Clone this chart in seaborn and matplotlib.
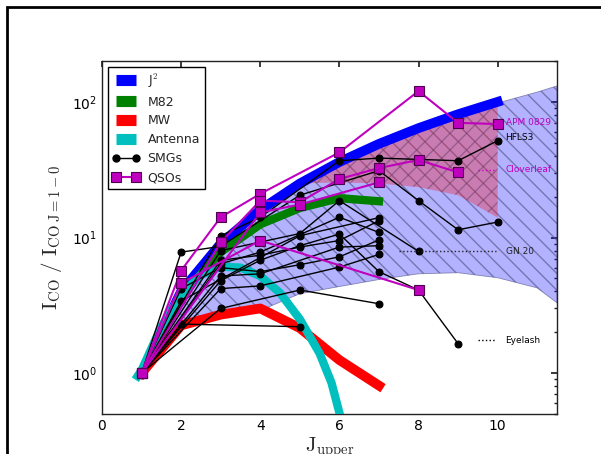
import numpy as np
import pandas as pd
import matplotlib
matplotlib.use("Agg")
import matplotlib.pyplot as plt
import seaborn as sns
from matplotlib.lines import Line2D
from matplotlib.patches import Rectangle

# ---------------- data ----------------
j2_J = [1, 2, 3, 4, 5, 6, 7, 8, 9, 10]
j2_val = [1, 4, 9, 16, 25, 36, 49, 64, 81, 100]

m82_J = [1, 2, 3, 4, 5, 6, 7]
m82_val = [1, 3.7, 7.8, 12.5, 16.5, 19.5, 18.5]

mw_J = [1, 2, 3, 4, 5, 6, 7]
mw_val = [1, 2.25, 2.7, 3.0, 2.15, 1.25, 0.81]

ant_J = [0.9, 1.0, 1.5, 2.0, 2.5, 3.0, 3.5, 4.0, 4.5, 5.0, 5.5, 5.8, 6.05]
ant_val = [0.95, 1.05, 2.2, 3.8, 5.3, 6.1, 6.0, 5.2, 3.9, 2.5, 1.4, 0.85, 0.45]

band_J = [1, 2, 3, 4, 5, 6, 7, 8, 9, 10, 11, 11.5]
band_low = [1, 2.2, 2.6, 2.9, 3.85, 4.35, 4.9, 5.4, 5.5, 5.05, 4.25, 3.3]
band_high = [1, 4, 9, 16, 25, 36, 49, 64, 81, 98, 118, 131]

pink_J = [5, 6, 7, 8, 9, 10]
pink_low = [25, 25.5, 25, 23.5, 20.5, 14]
pink_high = [25, 36, 49, 64, 81, 98]

smg_names = ["S1", "S2", "S3", "S4", "Eyelash", "S6", "S7", "S8", "S9", "S10", "S11", "S12"]
smg_J = [
    [1, 3, 4, 6, 7, 9, 10],
    [1, 2, 3, 5, 7, 8, 9, 10],
    [1, 3, 5, 6, 8],
    [1, 3, 4, 5, 6, 7],
    [1, 3, 4, 5, 6, 7, 8, 9],
    [1, 2, 5],
    [1, 3, 5, 7],
    [1, 3, 4, 6, 7],
    [1, 2, 3, 4, 5, 6, 7],
    [1, 3, 4, 6, 7],
    [1, 3, 4, 6, 7],
    [1, 2, 5, 7],
]
smg_val = [
    [1, 10.3, 14.1, 36.8, 38.5, 36.8, 51.7],
    [1, 7.8, 8.6, 20.5, 31.1, 18.7, 11.4, 13.0],
    [1, 8.0, 10.7, 18.7, 7.9],
    [1, 6.8, 7.4, 8.5, 9.5, 13.3],
    [1, 4.8, 6.8, 8.7, 10.6, 5.6, 4.1, 1.65],
    [1, 2.3, 2.2],
    [1, 3.0, 4.1, 3.25],
    [1, 6.4, 7.8, 14.1, 10.9],
    [1, 4.2, 6.0, 5.6, 6.3, 7.2, 9.6],
    [1, 5.2, 5.4, 8.5, 8.7],
    [1, 4.2, 4.4, 6.05, 7.5],
    [1, 3.4, 10.3, 14.0],
]

qso_names = ["APM 0829", "Cloverleaf", "Q3", "Q4"]
qso_J = [
    [1, 2, 3, 4, 6, 8, 9, 10],
    [1, 3, 4, 5, 6, 7, 8, 9],
    [1, 4, 5, 7],
    [1, 2, 4, 8],
]
qso_val = [
    [1, 5.7, 14.1, 21, 42.4, 120, 70, 68.6],
    [1, 9.2, 18.7, 18.2, 27, 32.5, 37.3, 30.2],
    [1, 15.3, 17.5, 25.5],
    [1, 4.6, 9.5, 4.1],
]

labels_txt = ["APM 0829", "HFLS3", "Cloverleaf", "GN 20", "Eyelash"]
labels_y = [70, 55, 31.6, 7.9, 1.75]
dots_x0 = [None, None, 9.5, 7.5, 9.5]
dots_x1 = [None, None, 9.97, 9.95, 9.95]

legend_names = ["J$^2$", "M82", "MW", "Antenna", "SMGs", "QSOs"]

# classic matplotlib colours
BLUE = (0.0, 0.0, 1.0)
GREEN = (0.0, 0.5, 0.0)
RED = (1.0, 0.0, 0.0)
CYAN = (0.0, 0.75, 0.75)
MAGENTA = (0.75, 0.0, 0.75)
labels_col = [MAGENTA, "black", MAGENTA, "#222222", "black"]

# ---------------- style ----------------
sns.set_theme(style="white")
plt.rcParams.update({
    "font.family": ["DejaVu Sans"],
    "mathtext.fontset": "cm",
    "lines.solid_capstyle": "projecting",
    "axes.edgecolor": "#222222",
    "axes.linewidth": 1.0,
    "xtick.direction": "in",
    "ytick.direction": "in",
    "xtick.top": True,
    "ytick.right": True,
    "xtick.major.size": 4,
    "ytick.major.size": 4,
    "xtick.minor.size": 2,
    "ytick.minor.size": 2,
    "xtick.color": "#222222",
    "ytick.color": "#222222",
    "xtick.labelcolor": "black",
    "ytick.labelcolor": "black",
})

fig = plt.figure(figsize=(6.01, 4.54), dpi=100)
ax = fig.add_axes([102 / 601, (454 - 414) / 454, 455 / 601, 353 / 454])

# shaded regions
ax.fill_between(band_J, band_low, band_high, facecolor=(0, 0, 1, 0.3),
                edgecolor=(0.3, 0.3, 0.5, 0.6), hatch="\\\\", linewidth=0.6, zorder=1)
ax.fill_between(pink_J, pink_low, pink_high, facecolor=(1, 0, 0, 0.3),
                edgecolor=(0.4, 0.25, 0.4, 0.5), hatch="//", linewidth=0.0, zorder=1.1)

# thick model bands
sns.lineplot(x=j2_J, y=j2_val, color=BLUE, lw=7, ax=ax, zorder=3, legend=False)
sns.lineplot(x=m82_J, y=m82_val, color=GREEN, lw=6, ax=ax, zorder=3, legend=False)
sns.lineplot(x=mw_J, y=mw_val, color=RED, lw=7, ax=ax, zorder=3, legend=False)
sns.lineplot(x=ant_J, y=ant_val, color=CYAN, lw=6, ax=ax, zorder=3, legend=False, sort=False)

# SMGs
smg_df = pd.DataFrame({
    "gal": [n for n, js in zip(smg_names, smg_J) for _ in js],
    "J": [j for js in smg_J for j in js],
    "ratio": [v for vs in smg_val for v in vs],
})
sns.lineplot(data=smg_df, x="J", y="ratio", units="gal", estimator=None, color="black",
             lw=1, marker="o", markersize=5, markeredgecolor="black", ax=ax,
             legend=False, zorder=4)

# QSOs
qso_df = pd.DataFrame({
    "gal": [n for n, js in zip(qso_names, qso_J) for _ in js],
    "J": [j for js in qso_J for j in js],
    "ratio": [v for vs in qso_val for v in vs],
})
sns.lineplot(data=qso_df, x="J", y="ratio", units="gal", estimator=None, color=MAGENTA,
             lw=1.5, marker="s", markersize=6.5, markerfacecolor=MAGENTA,
             markeredgecolor="#500050", markeredgewidth=0.8, ax=ax,
             legend=False, zorder=5)

# annotations
for t, y, c, x0, x1 in zip(labels_txt, labels_y, labels_col, dots_x0, dots_x1):
    ax.text(10.2, y, t, color=c, fontsize=6.5, va="center", ha="left", zorder=6)
    if x0 is not None:
        ax.plot([x0, x1], [y, y], ls=":", color=c, lw=1, zorder=6)

ax.set_yscale("log")
ax.set_xlim(0, 11.5)
ax.set_ylim(0.5, 200)
ax.set_xticks([0, 2, 4, 6, 8, 10])
ax.tick_params(labelsize=10)
ax.set_xlabel(r"$\mathrm{J_{upper}}$", fontsize=15, labelpad=2)
ax.set_ylabel(r"$\mathrm{I_{CO}\ /\ I_{CO\ J=1-0}}$", fontsize=15, labelpad=6)

handles = [
    Line2D([], [], color=BLUE, lw=8, solid_capstyle="butt"),
    Line2D([], [], color=GREEN, lw=8, solid_capstyle="butt"),
    Line2D([], [], color=RED, lw=8, solid_capstyle="butt"),
    Line2D([], [], color=CYAN, lw=8, solid_capstyle="butt"),
    Line2D([], [], color="black", lw=1, marker="o", markersize=5),
    Line2D([], [], color=MAGENTA, lw=1.5, marker="s", markersize=6.5,
           markerfacecolor=MAGENTA, markeredgecolor="#500050", markeredgewidth=0.8),
]
leg = ax.legend(handles, legend_names, loc="upper left", fontsize=9, numpoints=2,
                fancybox=False, framealpha=1, edgecolor="black", borderaxespad=0.45,
                handlelength=2.2, handletextpad=0.6, labelspacing=0.47, borderpad=0.4)
leg.get_frame().set_linewidth(1.0)
leg.set_zorder(10)

# outer frame of the figure
fig.patches.append(Rectangle((7 / 601, -0.2), 1.5, (454 - 7) / 454 + 0.2,
                             transform=fig.transFigure, fill=False,
                             edgecolor="black", lw=2, zorder=20))

fig.savefig("out.png", dpi=100)
